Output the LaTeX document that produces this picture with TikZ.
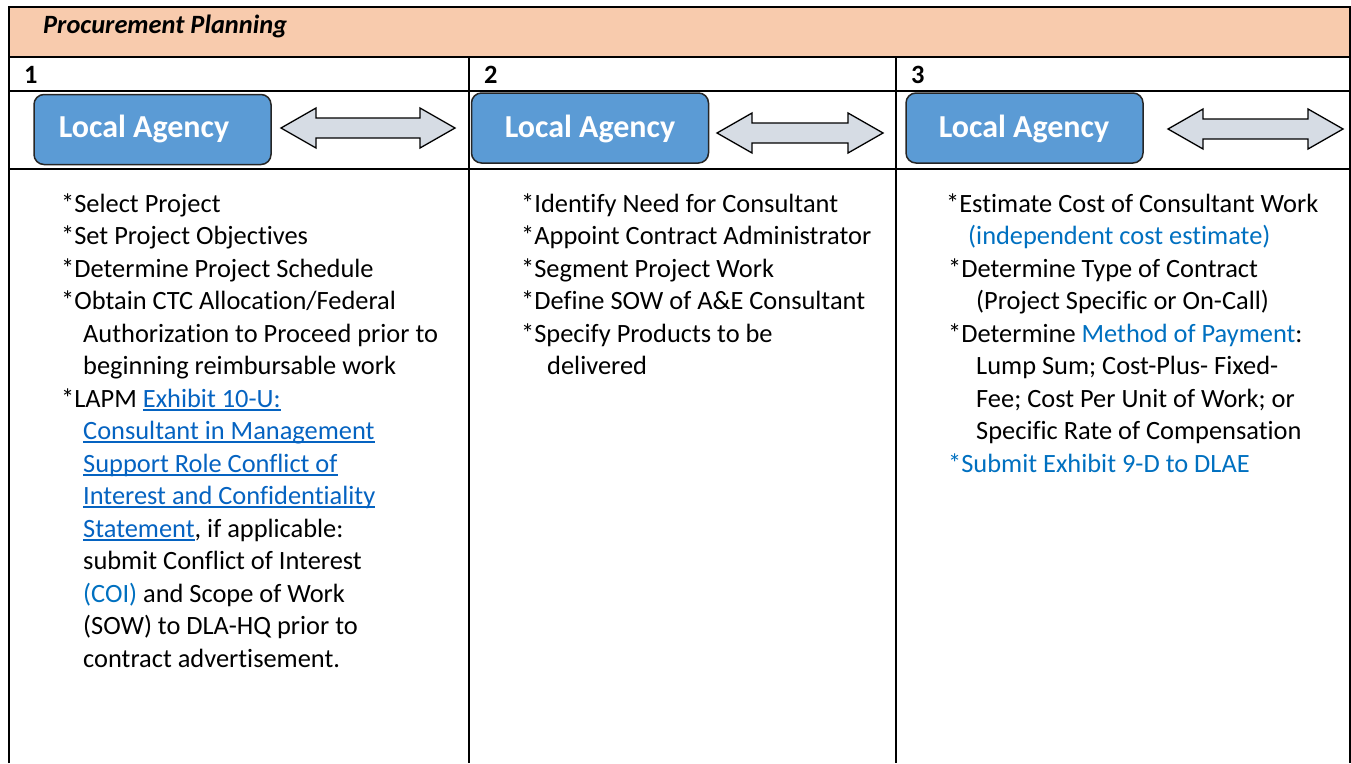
\documentclass[tikz,border=0pt]{standalone}
\usepackage{fontspec}
\setmainfont[Ligatures=NoCommon]{Carlito}
\usetikzlibrary{positioning}
\usetikzlibrary{calc}
\definecolor{peach}{HTML}{F8CBAD}
\definecolor{agencyblue}{HTML}{5B9BD5}
\definecolor{arrowgray}{HTML}{D6DCE4}
\definecolor{noteblue}{HTML}{0070C0}
\definecolor{linkblue}{HTML}{0563C1}
\tikzset{grid line/.style={draw,line width=2.2pt}}
\tikzset{agency box/.style={draw=black!85,
                            line width=1.5pt,
                            fill=agencyblue,
                            rounded corners=10pt,
                            minimum width=237pt,
                            minimum height=70pt,
                            inner sep=0pt}}
\tikzset{agency text/.style={text=white,anchor=base,inner sep=0pt,
                             font=\fontsize{32}{38}\selectfont\bfseries}}
\tikzset{item/.style={anchor=base west,inner sep=0pt,
                      font=\fontsize{26.4}{32.5}\selectfont}}
\tikzset{twoway/.style={draw,line width=1.3pt,fill=arrowgray}}
\newsavebox{\linkbox}
\newcommand{\LINK}[1]{\sbox{\linkbox}{\color{linkblue}#1}%
  \rlap{\color{linkblue}\rule[-3.5pt]{\wd\linkbox}{1.6pt}}\usebox{\linkbox}}
\newcommand{\NOTE}[1]{{\color{noteblue}#1}}

\begin{document}
\begin{tikzpicture}[x=1pt,y=-1pt]
      \useasboundingbox (0,0) rectangle (1351,763);

      % table
      \fill [peach] (9,7) rectangle (1350,57);
      \draw [grid line] (9,763) -- (9,7) -- (1350,7) -- (1350,763);
      \foreach \y in {57,91,169}
      {
      \draw [grid line] (9,\y) -- (1350,\y);
      }
      \foreach \x in {469,896}
      {
      \draw [grid line] (\x,57) -- (\x,763);
      }

      \node [item,font=\fontsize{26.4}{30}\selectfont\bfseries\itshape] (title) at (43,33) {Procurement Planning};
      \foreach \n/\x in {1/24,2/484,3/911}
      {
      \node [item,font=\fontsize{26.4}{30}\selectfont\bfseries] (num\n) at (\x,83) {\n};
      }

      % agencies
      \foreach \i/\bx/\by/\tx in {1/152.5/129.5/144,2/590/128/590,3/1024.5/128/1024}
      {
      \node [agency box] (agency\i) at (\bx,\by) {};
      \node [agency text] (agencylabel\i) at (\tx,137.5) {Local Agency};
      }

      % double arrows
      \foreach \xa/\xb/\yc in {281/455/128,717/883/133,1168/1343/129}
      {
      \draw [twoway] (\xa,\yc) -- (\xa+35,\yc-20) -- (\xa+35,\yc-10) -- (\xb-35,\yc-10)
      -- (\xb-35,\yc-20) -- (\xb,\yc) -- (\xb-35,\yc+20) -- (\xb-35,\yc+10)
      -- (\xa+35,\yc+10) -- (\xa+35,\yc+20) -- cycle;
      }

      % first column
      \foreach \x/\t [count=\n] in
      {
      61/{*Select Project},
      61/{*Set Project Objectives},
      61/{*Determine Project Schedule},
      61/{*Obtain CTC Allocation/Federal},
      83/{Authorization to Proceed prior to},
      83/{beginning reimbursable work},
      61/{*LAPM \LINK{Exhibit 10-U:}},
      83/{\LINK{Consultant in Management}},
      83/{\LINK{Support Role Conflict of}},
      83/{\LINK{Interest and Confidentiality}},
      83/{\LINK{Statement}, if applicable:},
      83/{submit Conflict of Interest},
      83/{\NOTE{(COI)} and Scope of Work},
      83/{(SOW) to DLA-HQ prior to},
      83/{contract advertisement.}
      }
      {
      \node [item] (task1-\n) at (\x,{212+(\n-1)*32.5}) {\t};
      }

      % second column
      \foreach \x/\t [count=\n] in
      {
      521/{*Identify Need for Consultant},
      521/{*Appoint Contract Administrator},
      521/{*Segment Project Work},
      521/{*Define SOW of A\&E Consultant},
      521/{*Specify Products to be},
      547/{delivered}
      }
      {
      \node [item] (task2-\n) at (\x,{212+(\n-1)*32.5}) {\t};
      }

      % third column
      \foreach \x/\t [count=\n] in
      {
      946/{*Estimate Cost of Consultant Work},
      968/{\NOTE{(independent cost estimate)}},
      948/{*Determine Type of Contract},
      976/{(Project Specific or On-Call)},
      948/{*Determine \NOTE{Method of Payment}:},
      976/{Lump Sum; Cost-Plus- Fixed-},
      976/{Fee; Cost Per Unit of Work; or},
      976/{Specific Rate of Compensation},
      948/{\NOTE{*Submit Exhibit 9-D to DLAE}}
      }
      {
      \node [item] (task3-\n) at (\x,{212+(\n-1)*32.5}) {\t};
      }

    \end{tikzpicture}
\end{document}
